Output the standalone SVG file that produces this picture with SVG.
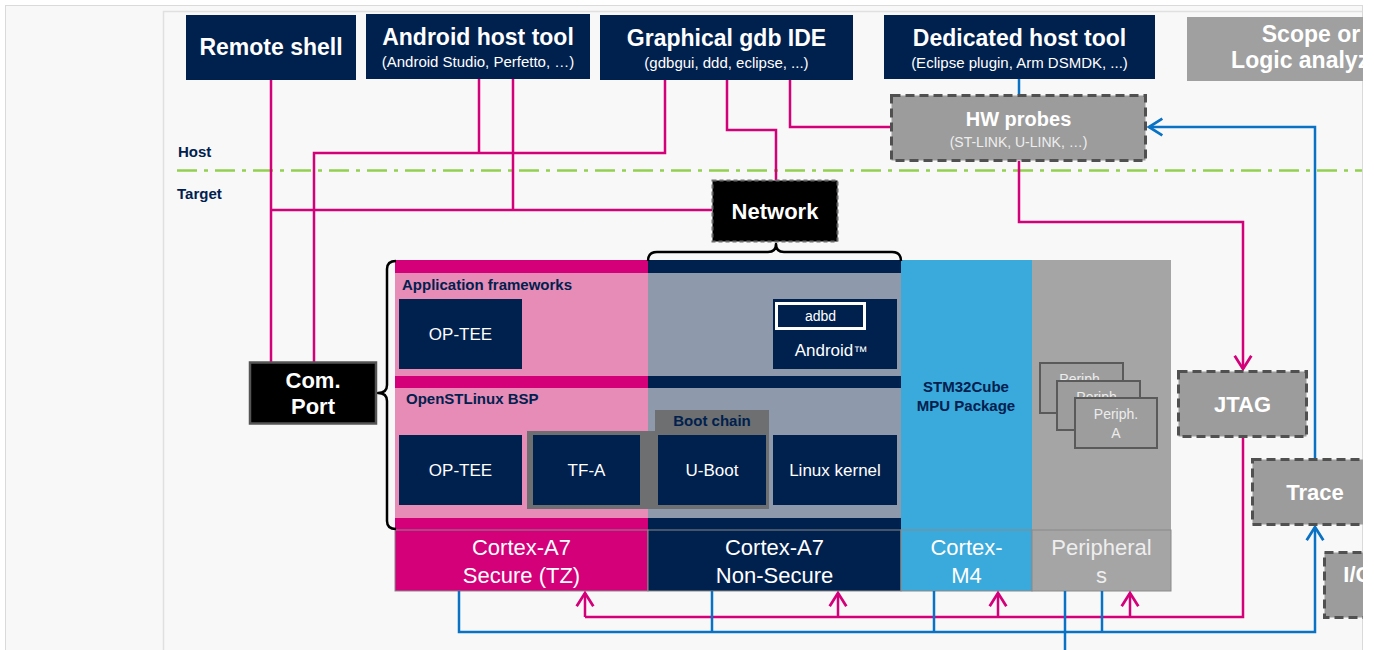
<svg xmlns="http://www.w3.org/2000/svg" width="1374" height="650" viewBox="0 0 1374 650">
<defs>
<style>
.navy{fill:#00204e}
.tw{fill:#ffffff;text-anchor:middle;font-family:"Liberation Sans",Arial,sans-serif}
.b22{font-size:22px;font-weight:bold}
.b23{font-size:23px;font-weight:bold}
.r14{font-size:14px}
.r15{font-size:15px}
.r17{font-size:17px}
.r22{font-size:22px}
.lbl{fill:#00204e;font-family:"Liberation Sans",Arial,sans-serif;font-weight:bold;font-size:15px}
.dash{fill:#9c9c9c;stroke:#505050;stroke-width:3;stroke-dasharray:9 5}
.mag{fill:none;stroke:#d4007a;stroke-width:2.5}
.blu{fill:none;stroke:#0a72c4;stroke-width:2.5}
.per{fill:#9d9d9d;stroke:#5a5a5a;stroke-width:2}
.pt{fill:#ececec;font-family:"Liberation Sans",Arial,sans-serif;font-size:14px;text-anchor:middle}
.brace{fill:none;stroke:#000;stroke-width:2.5;stroke-linejoin:round}
</style>
<marker id="am" markerUnits="userSpaceOnUse" markerWidth="20" markerHeight="20" viewBox="-12 -9 14 18" refX="0" refY="0" orient="auto">
<path d="M-12,-7.5 L0,0 L-12,7.5" fill="none" stroke="#d4007a" stroke-width="2.5"/>
</marker>
<marker id="ab" markerUnits="userSpaceOnUse" markerWidth="20" markerHeight="20" viewBox="-12 -9 14 18" refX="0" refY="0" orient="auto">
<path d="M-12,-7.5 L0,0 L-12,7.5" fill="none" stroke="#0a72c4" stroke-width="2.5"/>
</marker>
</defs>

<!-- page -->
<rect x="0" y="0" width="1374" height="650" fill="#ffffff"/>
<rect x="5.5" y="5.5" width="1357" height="650" fill="#f8f8f8" stroke="#dadada" stroke-width="1"/>
<path d="M163.5,650 L163.5,11.5 L1362,11.5" fill="none" stroke="#e0e0e0" stroke-width="1.5"/>

<!-- host / target separator -->
<g id="separator">
<line x1="177" y1="170.5" x2="1362" y2="170.5" stroke="#92d050" stroke-width="2.5" stroke-dasharray="20 7 4 7"/>
<text x="178" y="157" class="lbl" font-size="16">Host</text>
<text x="177" y="199" class="lbl" font-size="16">Target</text>
</g>

<!-- main block -->
<g id="secure-column">
<rect x="395" y="260" width="253" height="270" fill="#e68cb6"/>
<rect x="395" y="260" width="253" height="13" fill="#d4007a"/>
<rect x="395" y="376" width="253" height="12" fill="#d4007a"/>
<rect x="395" y="518" width="253" height="12" fill="#d4007a"/>
</g>
<g id="nonsecure-column">
<rect x="648" y="260" width="253" height="270" fill="#8e9aab"/>
<rect x="648" y="260" width="253" height="13" fill="#00204e"/>
<rect x="648" y="376" width="253" height="12" fill="#00204e"/>
<rect x="648" y="518" width="253" height="12" fill="#00204e"/>
</g>
<g id="m4-column">
<rect x="901" y="260" width="131" height="270" fill="#3aa9dc"/>
<text class="lbl" x="966" y="392" text-anchor="middle">STM32Cube</text>
<text class="lbl" x="966" y="411" text-anchor="middle">MPU Package</text>
</g>
<g id="periph-column">
<rect x="1032" y="260" width="139" height="270" fill="#a5a5a5"/>
</g>

<text class="lbl" x="402" y="290">Application frameworks</text>
<text class="lbl" x="406" y="404">OpenSTLinux BSP</text>

<g id="optee-app">
<rect class="navy" x="399" y="299" width="123" height="70"/>
<text class="tw r17" x="460.5" y="340">OP-TEE</text>
</g>
<g id="android">
<rect class="navy" x="773" y="299" width="124" height="70"/>
<rect x="776.5" y="303.5" width="88" height="25" fill="#00204e" stroke="#ffffff" stroke-width="3"/>
<text class="tw r14" x="820.5" y="321">adbd</text>
<text class="tw r17" x="831" y="356">Android<tspan font-size="14">™</tspan></text>
</g>
<g id="boot-chain">
<path d="M527,431 L655,431 L655,410 L769,410 L769,509 L527,509 Z" fill="#6d6f71"/>
<text class="lbl" x="712" y="426" text-anchor="middle">Boot chain</text>
</g>
<g id="optee-bsp">
<rect class="navy" x="399" y="435" width="123" height="70"/>
<text class="tw r17" x="460.5" y="476">OP-TEE</text>
</g>
<g id="tfa">
<rect class="navy" x="533" y="435" width="107" height="70"/>
<text class="tw r17" x="586.5" y="476">TF-A</text>
</g>
<g id="uboot">
<rect class="navy" x="658" y="435" width="108" height="70"/>
<text class="tw r17" x="712" y="476">U-Boot</text>
</g>
<g id="linux">
<rect class="navy" x="773" y="435" width="124" height="70"/>
<text class="tw r17" x="835" y="476">Linux kernel</text>
</g>

<g id="periph-stack">
<rect class="per" x="1040" y="363" width="83" height="50"/>
<text class="pt" x="1081.5" y="384">Periph.</text>
<rect class="per" x="1057" y="381" width="83" height="49"/>
<text class="pt" x="1098.5" y="402">Periph.</text>
<rect class="per" x="1075" y="398" width="82" height="50"/>
<text class="pt" x="1116" y="419">Periph.</text>
<text class="pt" x="1116" y="438">A</text>
</g>

<!-- bottom cores -->
<g id="core-secure">
<rect x="395" y="530" width="253" height="61" fill="#d4007a" stroke="#8a8a8a" stroke-width="1"/>
<text class="tw r22" x="521.5" y="555">Cortex-A7</text>
<text class="tw r22" x="521.5" y="583">Secure (TZ)</text>
</g>
<g id="core-nonsecure">
<rect x="648" y="530" width="253" height="61" fill="#00204e" stroke="#8a8a8a" stroke-width="1"/>
<text class="tw r22" x="774.5" y="555">Cortex-A7</text>
<text class="tw r22" x="774.5" y="583">Non-Secure</text>
</g>
<g id="core-m4">
<rect x="901" y="530" width="131" height="61" fill="#3aa9dc" stroke="#8a8a8a" stroke-width="1"/>
<text class="tw r22" x="966.5" y="555">Cortex-</text>
<text class="tw r22" x="966.5" y="583">M4</text>
</g>
<g id="core-periph">
<rect x="1032" y="530" width="139" height="61" fill="#a5a5a5" stroke="#8a8a8a" stroke-width="1"/>
<text class="tw r22" x="1101.5" y="555" style="fill:#eeeeee">Peripheral</text>
<text class="tw r22" x="1101.5" y="583" style="fill:#eeeeee">s</text>
</g>

<!-- braces -->
<g id="braces">
<path class="brace" d="M396,261 Q387,261 387,269 L387,385 Q387,393 378,393 Q387,393 387,401 L387,521 Q387,529 396,529"/>
<path class="brace" d="M648,261 Q648,252 657,252 L768,252 Q776,252 776,244 Q776,252 784,252 L892,252 Q901,252 901,261"/>
</g>

<!-- connectors -->
<g id="connectors">
<polyline class="mag" points="271,80 271,362"/>
<polyline class="mag" points="271,210 712,210"/>
<polyline class="mag" points="513,79 513,210"/>
<polyline class="mag" points="479,79 479,153"/>
<polyline class="mag" points="314,362 314,153 665,153 665,80"/>
<polyline class="mag" points="727,80 727,130 776,130 776,180"/>
<polyline class="mag" points="790,80 790,127 891,127"/>
<polyline class="mag" points="1019,161 1019,222 1243,222 1243,369" marker-end="url(#am)"/>
<polyline class="mag" points="1243,437 1243,617 585,617"/>
<polyline class="mag" points="585,617 585,593" marker-end="url(#am)"/>
<polyline class="mag" points="838,617 838,593" marker-end="url(#am)"/>
<polyline class="mag" points="998,617 998,593" marker-end="url(#am)"/>
<polyline class="mag" points="1130,617 1130,593" marker-end="url(#am)"/>
<polyline class="blu" points="1019,79 1019,95"/>
<polyline class="blu" points="1315,459 1315,127 1149,127" marker-end="url(#ab)"/>
<polyline class="blu" points="459,591 459,632 1315,632 1315,527" marker-end="url(#ab)"/>
<polyline class="blu" points="712,591 712,632"/>
<polyline class="blu" points="934,591 934,632"/>
<polyline class="blu" points="1065,591 1065,650"/>
<polyline class="blu" points="1102,591 1102,632"/>
</g>

<!-- host nodes -->
<g id="remote-shell">
<rect class="navy" x="186" y="15" width="170" height="65"/>
<text class="tw b23" x="271" y="55">Remote shell</text>
</g>
<g id="android-host-tool">
<rect class="navy" x="366" y="14" width="224" height="65"/>
<text class="tw b23" x="478" y="45">Android host tool</text>
<text class="tw r15" x="478" y="67">(Android Studio, Perfetto, …)</text>
</g>
<g id="gdb-ide">
<rect class="navy" x="600" y="15" width="253" height="65"/>
<text class="tw b23" x="726.5" y="46">Graphical gdb IDE</text>
<text class="tw r15" x="726.5" y="68">(gdbgui, ddd, eclipse, ...)</text>
</g>
<g id="dedicated-host-tool">
<rect class="navy" x="884" y="15" width="271" height="64"/>
<text class="tw b23" x="1019.5" y="46">Dedicated host tool</text>
<text class="tw r15" x="1019.5" y="68">(Eclipse plugin, Arm DSMDK, ...)</text>
</g>
<g id="scope">
<rect x="1187" y="17" width="238" height="64" fill="#a0a0a0"/>
<text class="tw b23" x="1311" y="42">Scope or</text>
<text class="tw b23" x="1311" y="68">Logic analyzer</text>
</g>
<g id="hw-probes">
<rect class="dash" x="891.5" y="95.5" width="254" height="65"/>
<text class="tw" x="1018.5" y="126" font-size="20" font-weight="bold">HW probes</text>
<text class="tw r14" x="1018.5" y="147" style="fill:#eeeeee">(ST-LINK, U-LINK, …)</text>
</g>
<g id="network">
<rect x="712.5" y="180.5" width="125" height="61" fill="#000000" stroke="#6a6a6a" stroke-width="2" stroke-dasharray="4 3"/>
<text class="tw b22" x="775" y="219">Network</text>
</g>
<g id="com-port">
<rect x="250" y="362.5" width="126" height="61" fill="#000000" stroke="#555555" stroke-width="2.5"/>
<text class="tw b22" x="313" y="388">Com.</text>
<text class="tw b22" x="313" y="414">Port</text>
</g>
<g id="jtag">
<rect class="dash" x="1178.5" y="371.5" width="128" height="65"/>
<text class="tw b22" x="1242.5" y="412">JTAG</text>
</g>
<g id="trace">
<rect class="dash" x="1252.5" y="459.5" width="126" height="65"/>
<text class="tw b22" x="1315" y="500">Trace</text>
</g>
<g id="io">
<rect class="dash" x="1324.5" y="552.5" width="68" height="65"/>
<text class="tw b22" x="1358" y="582">I/O</text>
</g>

<!-- right edge crop -->
<rect x="1363" y="0" width="11" height="650" fill="#ffffff"/>
</svg>
